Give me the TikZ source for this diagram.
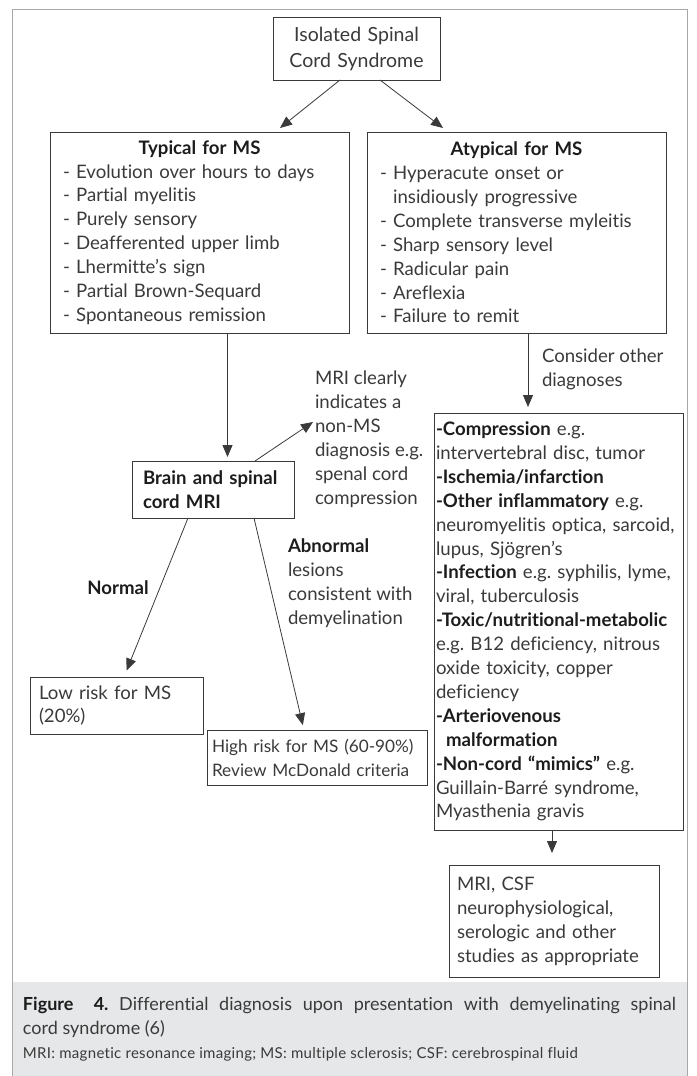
\documentclass[tikz,border=0pt]{standalone}
\usepackage{fontspec}
\setmainfont{Lato}[Ligatures={NoCommon}]
\usetikzlibrary{arrows.meta}
\frenchspacing
\definecolor{txt}{HTML}{3A3A3A}
\definecolor{dark}{HTML}{1C1C1C}
\definecolor{boxline}{HTML}{3A3A3A}
\definecolor{framecol}{HTML}{A8A8A8}
\definecolor{capbg}{HTML}{E6E7E8}
\newcommand{\hb}[1]{{\bfseries\color{dark}#1}}
\newcommand{\bodyfont}{\fontsize{18.6}{23.9}\selectfont}
\tikzset{
  box/.style={draw=boxline, line width=0.8pt, inner ysep=0pt, outer sep=0pt,
    align=left, anchor=north west, font=\bodyfont, text=txt},
  lbl/.style={inner sep=0pt, outer sep=0pt, align=left, anchor=north west,
    font=\bodyfont, text=txt},
  arr/.style={draw=boxline, line width=0.8pt, -{Triangle[length=12pt,width=10pt]}},
}
\begin{document}
\begin{tikzpicture}[x=1pt,y=-1pt]
\useasboundingbox (0,0) rectangle (696,1076);

% caption band and outer frame
\fill[capbg] (12.5,982) rectangle (687,1076);
\draw[framecol, line width=1pt] (12.5,1080) -- (12.5,9) -- (687,9) -- (687,1080);

% boxes
\node[box, inner xsep=0pt, align=center, minimum width=167pt, minimum height=63pt,
  text width=167pt, font=\fontsize{19.5}{26}\selectfont] (top) at (273,17)
  {Isolated Spinal\\Cord Syndrome};

\node[box, inner xsep=13pt, minimum width=299pt, minimum height=201pt, text width=273pt] (typ) at (50,132)
  {\makebox[273pt]{\hb{Typical for MS}}\\
   - Evolution over hours to days\\
   - Partial myelitis\\
   - Purely sensory\\
   - Deafferented upper limb\\
   - Lhermitte's sign\\
   - Partial Brown-Sequard\\
   - Spontaneous remission};

\node[box, inner xsep=13pt, minimum width=299pt, minimum height=201pt, text width=273pt] (atyp) at (367,132)
  {\makebox[273pt]{\hb{Atypical for MS}}\\
   - Hyperacute onset or\\
   \phantom{- }insidiously progressive\\
   - Complete transverse myleitis\\
   - Sharp sensory level\\
   - Radicular pain\\
   - Areflexia\\
   - Failure to remit};

\node[box, inner xsep=11pt, minimum width=162pt, minimum height=57pt, text width=140pt] (mri) at (132,461)
  {\hb{Brain and spinal}\\\hb{cord MRI}};

\node[box, inner xsep=9pt, minimum width=173pt, minimum height=57pt, text width=155pt] (low) at (30,677)
  {Low risk for MS\\(20\%)};

\node[box, inner xsep=5pt, minimum width=220pt, minimum height=55pt, text width=210pt,
  font=\fontsize{17.2}{23.9}\selectfont] (high) at (207,730)
  {\mbox{High risk for MS (60-90\%)}\\\mbox{Review McDonald criteria}};

\node[box, inner xsep=2pt, minimum width=249pt, minimum height=417pt, text width=245pt] (big) at (434,413)
  {\hb{-Compression} e.g.\\
   intervertebral disc, tumor\\
   \hb{-Ischemia/infarction}\\
   \hb{-Other inflammatory} e.g.\\
   neuromyelitis optica, sarcoid,\\
   lupus, Sjögren's\\
   \hb{-Infection} e.g. syphilis, lyme,\\
   viral, tuberculosis\\
   \hb{-Toxic/nutritional-metabolic}\\
   e.g. B12 deficiency, nitrous\\
   oxide toxicity, copper\\
   deficiency\\
   \hb{-Arteriovenous}\\
   \hb{\phantom{-}\,malformation}\\
   \hb{-Non-cord “mimics”} e.g.\\
   Guillain-Barré syndrome,\\
   Myasthenia gravis};

\node[box, inner xsep=8pt, minimum width=210pt, minimum height=112pt, text width=194pt] (fin) at (449,865)
  {MRI, CSF\\neurophysiological,\\serologic and other\\studies as appropriate};

% free-standing labels
\node[lbl] (nonms) at (315,371)
  {MRI clearly\\indicates a\\non-MS\\diagnosis e.g.\\spenal cord\\compression};
\node[lbl] (consider) at (542,349) {Consider other\\diagnoses};
\node[lbl, anchor=center] (normal) at (118,588) {\hb{Normal}};
\node[lbl] (abn) at (288,539)
  {\hb{Abnormal}\\lesions\\consistent with\\demyelination};

\coordinate (nmtip) at (313,422);

% connectors
\draw[arr] ([xshift=-16.5pt]top.south) -- ([xshift=80.5pt,yshift=4pt]typ.north);
\draw[arr] ([xshift=23.5pt]top.south) -- ([xshift=-73.5pt,yshift=4pt]atyp.north);
\draw[arr, shorten >=4pt] ([xshift=28pt]typ.south) -- ([xshift=14.5pt]mri.north);
\draw[arr] ([xshift=42pt]mri.north) -- (nmtip);
\draw[arr, shorten >=7pt] ([xshift=-25pt]mri.south) -- ([xshift=7.5pt]low.north);
\draw[arr, shorten >=5pt] ([xshift=41pt]mri.south) -- ([xshift=-13pt]high.north);
\draw[arr, shorten >=6pt] ([xshift=11.5pt]atyp.south) -- ([xshift=-30.5pt]big.north);
\draw[arr, shorten >=12pt] ([xshift=-6.5pt]big.south) -- ([xshift=-2pt]fin.north);

% caption
\node[lbl, anchor=west, font=\fontsize{18}{22}\selectfont, text=txt] (cap1) at (23,1005)
  {\makebox[653pt][s]{\hb{Figure\ \ 4.} Differential diagnosis upon presentation with demyelinating spinal}};
\node[lbl, anchor=west, font=\fontsize{18}{22}\selectfont, text=txt] (cap2) at (23,1029)
  {cord syndrome (6)};
\node[lbl, anchor=west, font=\fontsize{15}{18}\selectfont\addfontfeature{LetterSpace=2}, text=txt] (cap3) at (23,1054)
  {MRI: magnetic resonance imaging; MS: multiple sclerosis; CSF: cerebrospinal fluid};
\end{tikzpicture}
\end{document}
